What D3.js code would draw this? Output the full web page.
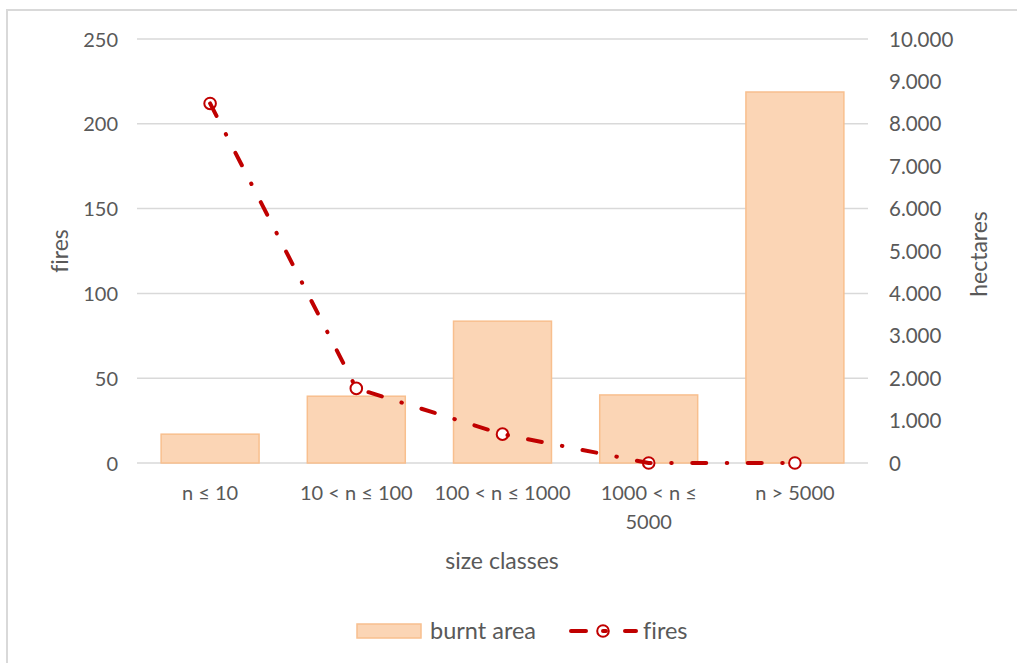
<!DOCTYPE html>
<html>
<head>
<meta charset="utf-8">
<script src="https://cdn.jsdelivr.net/npm/d3@7"></script>
<style>
  html, body { margin: 0; padding: 0; background: #fff; }
  svg { display: block; font-family: Lato, "Open Sans", sans-serif; font-variant-ligatures: none; font-feature-settings: "liga" 0; }
  text { font-variant-ligatures: none; font-feature-settings: "liga" 0; }
</style>
</head>
<body>
<svg id="chart" width="1017" height="663"></svg>
<script>
// ---- data ----
const categories = ["n ≤ 10", "10 < n ≤ 100", "100 < n ≤ 1000", "1000 < n ≤ 5000", "n > 5000"];
const burntArea = [680, 1575, 3345, 1605, 8750];   // hectares (right axis)
const fires = [212, 44, 17, 0, 0];                  // count (left axis)
const firesTicks = [0, 50, 100, 150, 200, 250];
const hectareTicks = [0, 1000, 2000, 3000, 4000, 5000, 6000, 7000, 8000, 9000, 10000];
const seriesNames = ["burnt area", "fires"];
const axisTitles = { x: "size classes", yLeft: "fires", yRight: "hectares" };

// ---- setup ----
const svg = d3.select("#chart");
const W = 1017, H = 663;
const plot = { left: 137, right: 868, top: 39, bottom: 463 };
const textColor = "#595959";
const gridColor = "#d9d9d9";
const lineColor = "#c00000";
const barFill = "#fbd5b5";
const barStroke = "#f8bf8e";

const locale = d3.formatLocale({ decimal: ",", thousands: ".", grouping: [3], currency: ["", ""] });
const fmtRight = locale.format(",");

// chart frame (only left/top visible in the crop)
svg.append("rect")
  .attr("x", 7).attr("y", 10).attr("width", W + 20).attr("height", H + 20)
  .attr("fill", "#fff").attr("stroke", gridColor).attr("stroke-width", 2);

const x = d3.scaleBand().domain(categories).range([plot.left, plot.right])
  .paddingInner(0.33).paddingOuter(0.165);
const yL = d3.scaleLinear().domain([0, 250]).range([plot.bottom, plot.top]);
const yR = d3.scaleLinear().domain([0, 10000]).range([plot.bottom, plot.top]);

// gridlines
svg.append("g").selectAll("line").data(firesTicks).join("line")
  .attr("x1", plot.left).attr("x2", plot.right)
  .attr("y1", d => yL(d)).attr("y2", d => yL(d))
  .attr("stroke", gridColor).attr("stroke-width", 1.5);

// left axis
const leftAxis = svg.append("g").attr("transform", `translate(${plot.left - 19},0)`)
  .call(d3.axisLeft(yL).tickValues(firesTicks).tickSize(0).tickPadding(0));
leftAxis.select(".domain").remove();
leftAxis.selectAll("text").attr("fill", textColor).style("font-size", "20px")
  .style("font-family", "Lato, sans-serif").attr("dy", "0.35em");

// right axis
const rightAxis = svg.append("g").attr("transform", `translate(${plot.right + 21},0)`)
  .call(d3.axisRight(yR).tickValues(hectareTicks).tickFormat(fmtRight).tickSize(0).tickPadding(0));
rightAxis.select(".domain").remove();
rightAxis.selectAll("text").attr("fill", textColor).style("font-size", "20.5px")
  .style("font-family", "Lato, sans-serif").attr("dy", "0.35em");

// bars
svg.append("g").selectAll("rect").data(categories).join("rect")
  .attr("x", d => x(d))
  .attr("width", x.bandwidth())
  .attr("y", (d, i) => yR(burntArea[i]))
  .attr("height", (d, i) => yR(0) - yR(burntArea[i]))
  .attr("fill", barFill).attr("stroke", barStroke).attr("stroke-width", 1.5);

// x axis labels with wrapping
const bottomAxis = svg.append("g").attr("transform", `translate(0,${plot.bottom})`)
  .call(d3.axisBottom(x).tickSize(0).tickPadding(0));
bottomAxis.select(".domain").remove();
bottomAxis.selectAll("text").attr("fill", textColor).style("font-size", "20px")
  .style("font-family", "Lato, sans-serif").attr("y", 37).attr("dy", 0)
  .each(function (d) {
    const t = d3.select(this);
    const words = d.split(" ");
    t.text(null);
    const maxW = x.step() - 4;
    let line = [];
    let ts = t.append("tspan").attr("x", 0).attr("y", 37);
    let lineNo = 0;
    for (const w of words) {
      line.push(w);
      ts.text(line.join(" "));
      if (ts.node().getComputedTextLength() > maxW && line.length > 1) {
        line.pop();
        ts.text(line.join(" "));
        line = [w];
        lineNo++;
        ts = t.append("tspan").attr("x", 0).attr("y", 37 + lineNo * 29).text(w);
      }
    }
  });

// fires line: markers first, dashed line on top
const pts = categories.map((c, i) => [x(c) + x.bandwidth() / 2, yL(fires[i])]);
svg.append("g").selectAll("circle").data(pts).join("circle")
  .attr("cx", d => d[0]).attr("cy", d => d[1]).attr("r", 5.8)
  .attr("fill", "#fff").attr("stroke", lineColor).attr("stroke-width", 2);
svg.append("path")
  .attr("d", d3.line()(pts))
  .attr("fill", "none").attr("stroke", lineColor).attr("stroke-width", 4)
  .attr("stroke-linecap", "round").attr("stroke-linejoin", "round")
  .attr("stroke-dasharray", "14,20.5,0.5,20.5");

// axis titles
svg.append("text").attr("x", (plot.left + plot.right) / 2 - 0.5).attr("y", 569)
  .attr("text-anchor", "middle").attr("fill", textColor).style("font-size", "23px")
  .text(axisTitles.x);
svg.append("text").attr("transform", `translate(68,251) rotate(-90)`)
  .attr("text-anchor", "middle").attr("fill", textColor).style("font-size", "23px")
  .text(axisTitles.yLeft);
svg.append("text").attr("transform", `translate(987,254) rotate(-90)`)
  .attr("text-anchor", "middle").attr("fill", textColor).style("font-size", "23px")
  .text(axisTitles.yRight);

// legend
const lg = svg.append("g");
lg.append("rect").attr("x", 357).attr("y", 624).attr("width", 64).attr("height", 14)
  .attr("fill", barFill).attr("stroke", barStroke).attr("stroke-width", 1.5);
lg.append("text").attr("x", 430).attr("y", 639).attr("fill", textColor)
  .style("font-size", "23.5px").text(seriesNames[0]);
lg.append("circle").attr("cx", 603).attr("cy", 631).attr("r", 5.8)
  .attr("fill", "#fff").attr("stroke", lineColor).attr("stroke-width", 2);
lg.append("path").attr("d", "M571,631L586,631M603,631L606,631")
  .attr("stroke", lineColor).attr("stroke-width", 4).attr("stroke-linecap", "round");
lg.append("path").attr("d", "M625,631L636,631")
  .attr("stroke", lineColor).attr("stroke-width", 4).attr("stroke-linecap", "round");
lg.append("text").attr("x", 643).attr("y", 639).attr("fill", textColor)
  .style("font-size", "23.5px").text(seriesNames[1]);
</script>
</body>
</html>
